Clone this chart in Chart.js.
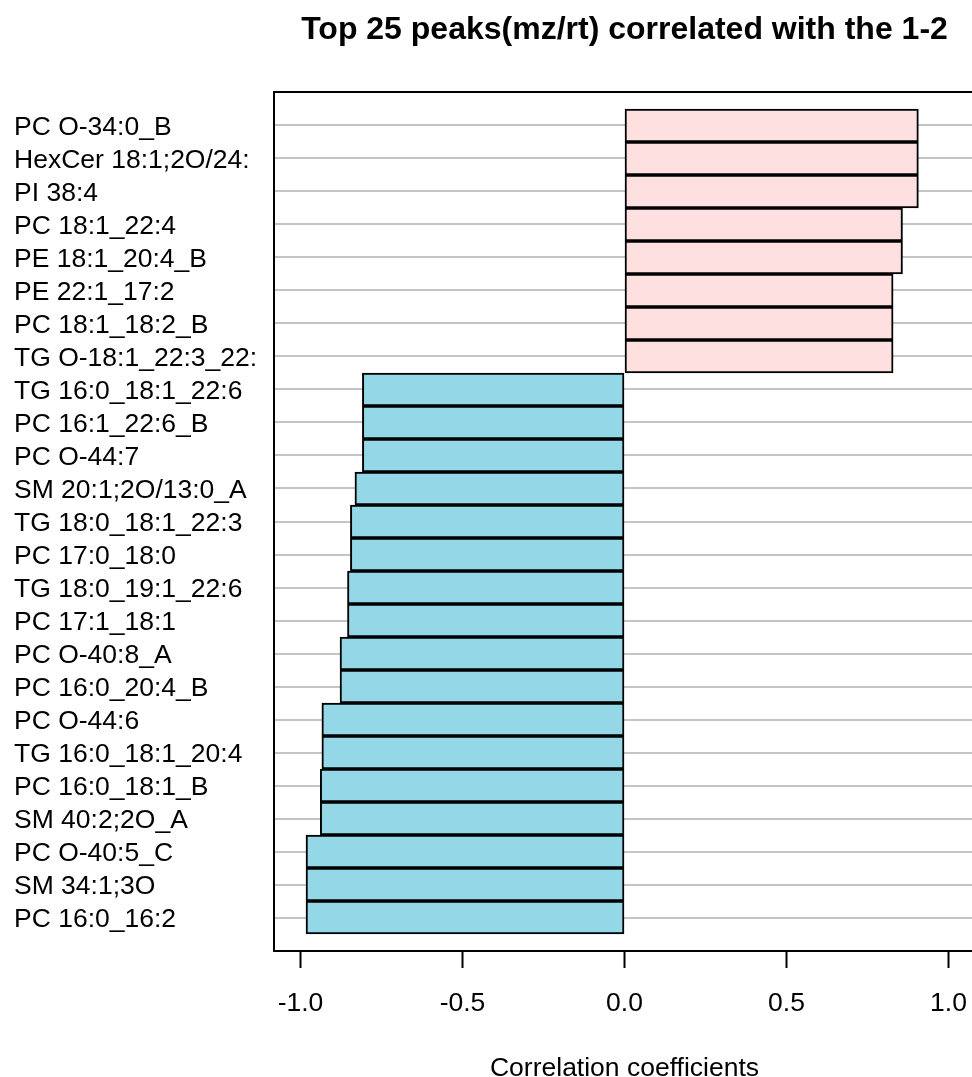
<!DOCTYPE html>
<html>
<head>
<meta charset="utf-8">
<script src="https://cdn.jsdelivr.net/npm/chart.js@4.4.1/dist/chart.umd.min.js"></script>
<style>
  html, body { margin: 0; padding: 0; background: #ffffff; overflow: hidden; }
  #wrap { position: relative; width: 972px; height: 1077px; }
</style>
</head>
<body>
<div id="wrap"><canvas id="c" width="972" height="1077"></canvas></div>
<script>
const categories = [
  "PC O-34:0_B", "HexCer 18:1;2O/24:", "PI 38:4", "PC 18:1_22:4", "PE 18:1_20:4_B",
  "PE 22:1_17:2", "PC 18:1_18:2_B", "TG O-18:1_22:3_22:", "TG 16:0_18:1_22:6", "PC 16:1_22:6_B",
  "PC O-44:7", "SM 20:1;2O/13:0_A", "TG 18:0_18:1_22:3", "PC 17:0_18:0", "TG 18:0_19:1_22:6",
  "PC 17:1_18:1", "PC O-40:8_A", "PC 16:0_20:4_B", "PC O-44:6", "TG 16:0_18:1_20:4",
  "PC 16:0_18:1_B", "SM 40:2;2O_A", "PC O-40:5_C", "SM 34:1;3O", "PC 16:0_16:2"
];
const correlations = [
  0.907, 0.907, 0.907, 0.858, 0.858,
  0.829, 0.829, 0.829, -0.809, -0.809,
  -0.809, -0.832, -0.846, -0.846, -0.855,
  -0.855, -0.878, -0.878, -0.934, -0.934,
  -0.939, -0.939, -0.983, -0.983, -0.983
];
const xTicks = [-1.0, -0.5, 0.0, 0.5, 1.0];
const titleText = "Top 25 peaks(mz/rt) correlated with the 1-2";
const xTitleText = "Correlation coefficients";

const POS_COLOR = "#FFE0E1";
const NEG_COLOR = "#94D7E7";

const points = correlations.map((v, i) => ({ x: v, y: i }));

const framePlugin = {
  id: "frame",
  afterDatasetsDraw(chart) {
    const { ctx, chartArea: a } = chart;
    ctx.save();
    ctx.strokeStyle = "#000";
    ctx.lineWidth = 2;
    ctx.beginPath();
    ctx.moveTo(chart.width + 5, a.top);
    ctx.lineTo(a.left, a.top);
    ctx.lineTo(a.left, a.bottom);
    ctx.lineTo(chart.width + 5, a.bottom);
    ctx.stroke();
    ctx.restore();
  },
  afterDraw(chart) {
    const { ctx } = chart;
    const xs = chart.scales.x;
    const cx = (xs.getPixelForValue(-1) + xs.getPixelForValue(1)) / 2;
    ctx.save();
    ctx.fillStyle = "#000";
    ctx.textAlign = "center";
    ctx.textBaseline = "middle";
    ctx.font = "bold 32px 'Liberation Sans', Arial, sans-serif";
    ctx.fillText(titleText, cx, 30);
    ctx.font = "26.5px 'Liberation Sans', Arial, sans-serif";
    ctx.fillText(xTitleText, cx, 1069);
    ctx.restore();
  }
};

new Chart(document.getElementById("c"), {
  type: "bar",
  data: {
    datasets: [{
      data: points,
      backgroundColor: correlations.map(v => v >= 0 ? POS_COLOR : NEG_COLOR),
      borderColor: "#000",
      borderWidth: 2,
      borderSkipped: false,
      categoryPercentage: 1.0,
      barPercentage: 1.0
    }]
  },
  plugins: [framePlugin],
  options: {
    indexAxis: "y",
    responsive: false,
    animation: false,
    devicePixelRatio: 1,
    layout: { padding: { left: 14, top: 92, right: 0, bottom: 0 } },
    plugins: { legend: { display: false }, tooltip: { enabled: false }, title: { display: false } },
    scales: {
      y: {
        type: "linear",
        reverse: true,
        offset: false,
        min: -1.015,
        max: 25.015,
        afterBuildTicks: (axis) => { axis.ticks = categories.map((_, i) => ({ value: i })); },
        afterFit: (axis) => { axis.width = 260; axis.paddingTop = 0; axis.paddingBottom = 0; },
        ticks: {
          callback: (v) => categories[v] !== undefined ? categories[v] : "",
          crossAlign: "far",
          color: "#000",
          font: { size: 26.5, family: "'Liberation Sans', Arial, sans-serif" },
          autoSkip: false,
          padding: 0,
          labelOffset: 2
        },
        grid: { offset: false, color: "#c4c4c4", lineWidth: 2, drawTicks: false, tickLength: 0 },
        border: { display: false }
      },
      x: {
        type: "linear",
        min: -1.0818,
        max: 1.0725,
        afterBuildTicks: (axis) => { axis.ticks = xTicks.map(v => ({ value: v })); },
        afterFit: (axis) => { axis.height = 126; axis.paddingLeft = 0; axis.paddingRight = 0; },
        ticks: {
          callback: (v) => v.toFixed(1),
          color: "#000",
          font: { size: 26.5, family: "'Liberation Sans', Arial, sans-serif" },
          padding: 20,
          maxRotation: 0
        },
        grid: { display: true, drawOnChartArea: false, drawTicks: true, tickLength: 17, tickColor: "#000", tickWidth: 2 },
        border: { display: false }
      }
    }
  }
});
</script>
</body>
</html>
